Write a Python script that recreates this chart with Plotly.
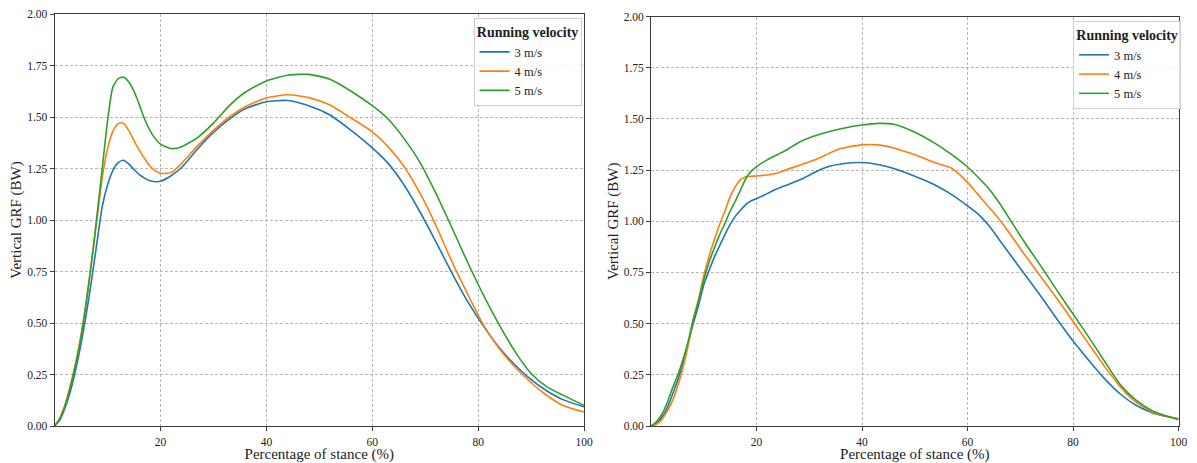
import plotly.graph_objects as go

# ---------------- data ----------------
SERIES_NAMES = ["3 m/s", "4 m/s", "5 m/s"]
COLORS = ["#1f77b4", "#ff7f0e", "#2ca02c"]

X_LEFT = [0, 1, 2, 3, 4, 5, 6, 7, 8, 9, 10, 11, 12, 13, 14, 15, 16, 17, 18, 19, 20,
          22, 24, 27, 30, 33, 36, 40, 44, 48, 52, 56, 60, 63, 66, 69, 72, 75, 78,
          81, 84, 87, 90, 93, 96, 100]
LEFT_3 = [0, 0.03, 0.09, 0.17, 0.275, 0.40, 0.545, 0.71, 0.89, 1.065, 1.17, 1.24, 1.278,
          1.29, 1.272, 1.245, 1.22, 1.203, 1.19, 1.186, 1.188,
          1.215, 1.255, 1.345, 1.425, 1.49, 1.54, 1.574, 1.58, 1.555, 1.51, 1.435,
          1.35, 1.275, 1.17, 1.04, 0.895, 0.745, 0.605,
          0.485, 0.38, 0.295, 0.225, 0.17, 0.128, 0.093]
LEFT_4 = [0, 0.04, 0.105, 0.20, 0.31, 0.445, 0.61, 0.80, 1.0, 1.205, 1.345, 1.43, 1.468,
          1.47, 1.435, 1.385, 1.338, 1.298, 1.262, 1.24, 1.227,
          1.23, 1.275, 1.36, 1.435, 1.50, 1.55, 1.592, 1.608, 1.594, 1.558, 1.495,
          1.428, 1.355, 1.26, 1.13, 0.975, 0.80, 0.64,
          0.49, 0.375, 0.285, 0.21, 0.148, 0.10, 0.068]
LEFT_5 = [0, 0.035, 0.10, 0.19, 0.30, 0.43, 0.60, 0.80, 1.02, 1.25, 1.48, 1.645, 1.686,
          1.694, 1.67, 1.625, 1.56, 1.49, 1.435, 1.395, 1.368,
          1.347, 1.356, 1.40, 1.47, 1.555, 1.62, 1.675, 1.703, 1.707, 1.683, 1.625,
          1.555, 1.49, 1.395, 1.28, 1.13, 0.965, 0.795,
          0.635, 0.49, 0.36, 0.255, 0.19, 0.15, 0.10]

X_RIGHT = [0, 1, 2, 3, 4, 5, 6, 7, 8, 9, 10, 11, 12, 13, 14, 15, 16, 17, 18, 19, 20,
           22, 24, 26, 28, 30, 32, 34, 36, 40, 43, 46, 50, 54, 57, 60, 62, 64, 66, 68,
           71, 74, 77, 80, 83, 86, 89, 92, 95, 97, 100]
RIGHT_3 = [0, 0.012, 0.04, 0.085, 0.15, 0.22, 0.30, 0.40, 0.50, 0.59, 0.69, 0.76, 0.825,
           0.88, 0.935, 0.985, 1.025, 1.055, 1.082, 1.10, 1.11,
           1.135, 1.16, 1.18, 1.20, 1.225, 1.252, 1.27, 1.28, 1.287, 1.277, 1.258, 1.22,
           1.175, 1.13, 1.075, 1.035, 0.98, 0.91, 0.84,
           0.735, 0.63, 0.52, 0.415, 0.32, 0.23, 0.155, 0.10, 0.065, 0.05, 0.035]
RIGHT_4 = [0, 0.008, 0.03, 0.07, 0.12, 0.19, 0.28, 0.39, 0.52, 0.62, 0.735, 0.83, 0.91,
           0.985, 1.05, 1.12, 1.17, 1.205, 1.217, 1.22, 1.221,
           1.226, 1.236, 1.255, 1.272, 1.29, 1.31, 1.335, 1.355, 1.373, 1.373, 1.358,
           1.325, 1.285, 1.259, 1.19, 1.13, 1.07, 1.01, 0.94,
           0.83, 0.725, 0.62, 0.51, 0.40, 0.29, 0.19, 0.115, 0.07, 0.052, 0.035]
RIGHT_5 = [0, 0.02, 0.055, 0.11, 0.18, 0.245, 0.32, 0.41, 0.52, 0.61, 0.715, 0.80, 0.87,
           0.935, 0.99, 1.05, 1.10, 1.155, 1.21, 1.245, 1.267,
           1.30, 1.326, 1.353, 1.385, 1.408, 1.425, 1.44, 1.452, 1.47, 1.478, 1.474,
           1.435, 1.378, 1.325, 1.265, 1.215, 1.16, 1.09, 1.01,
           0.89, 0.777, 0.66, 0.547, 0.433, 0.315, 0.20, 0.125, 0.075, 0.055, 0.03]

X_TICKS = [20, 40, 60, 80, 100]
Y_TICKS = [0, 0.25, 0.5, 0.75, 1.0, 1.25, 1.5, 1.75, 2.0]
X_TITLE = "Percentage of stance (%)"
Y_TITLE = "Vertical GRF (BW)"
LEGEND_TITLE = "Running velocity"

# ---------------- figure ----------------
FONT = "Liberation Serif, Times New Roman, serif"
W, H = 1197, 463
fig = go.Figure()

left = [LEFT_3, LEFT_4, LEFT_5]
right = [RIGHT_3, RIGHT_4, RIGHT_5]
for i in range(3):
    fig.add_trace(go.Scatter(x=X_LEFT, y=left[i], name=SERIES_NAMES[i], mode="lines",
                             line=dict(color=COLORS[i], width=1.6, shape="spline", smoothing=0.6),
                             xaxis="x", yaxis="y", legend="legend"))
for i in range(3):
    fig.add_trace(go.Scatter(x=X_RIGHT, y=right[i], name=SERIES_NAMES[i], mode="lines",
                             line=dict(color=COLORS[i], width=1.6, shape="spline", smoothing=0.6),
                             xaxis="x2", yaxis="y2", legend="legend2"))

axis_common = dict(showline=True, linecolor="#3c3c3c", linewidth=1, mirror=True,
                   ticks="outside", ticklen=4, tickcolor="#3c3c3c",
                   showgrid=True, gridcolor="#b8b8b8", gridwidth=0.8, griddash="3px,2px",
                   zeroline=False, tickfont=dict(family=FONT, size=11.5, color="#222"))

xa = dict(axis_common, range=[0, 100], tickvals=X_TICKS, ticklabelstandoff=1,
          title=dict(text=X_TITLE, font=dict(family=FONT, size=15, color="#222"), standoff=3))
ya = dict(axis_common, range=[0, 2], tickvals=Y_TICKS, tickformat=".2f",
          ticklabelstandoff=0,
          title=dict(text=Y_TITLE, font=dict(family=FONT, size=15, color="#222"), standoff=1))

TOP = 14
BOT = 37
PH = H - TOP - BOT
legend_common = dict(xanchor="right", yanchor="top",
                     bgcolor="rgba(255,255,255,0.85)", bordercolor="#cfcfcf", borderwidth=1,
                     font=dict(family=FONT, size=12.5, color="#222"),
                     title=dict(text="<b>" + LEGEND_TITLE + "</b>", side="top center",
                                font=dict(family=FONT, size=14, color="#222")),
                     itemwidth=30, tracegroupgap=0)
fig.update_layout(
    width=W, height=H,
    margin=dict(l=0, r=0, t=TOP, b=BOT),
    paper_bgcolor="white", plot_bgcolor="white",
    xaxis=dict(xa, domain=[55 / W, 588.5 / W], anchor="y"),
    yaxis=dict(ya, domain=[0, 1], anchor="x"),
    xaxis2=dict(xa, domain=[656 / W, 1187.5 / W], anchor="y2"),
    yaxis2=dict(ya, domain=[0, (426 - 16.5) / PH], anchor="x2"),
    legend=dict(legend_common, x=586 / W, y=(426 - 18) / PH),
    legend2=dict(legend_common, x=1190 / W, y=(426 - 21) / PH),
    showlegend=True,
)

fig.write_html("out.html", config={"displayModeBar": False},
               post_script="document.body.style.margin='0';document.body.style.padding='0';")
